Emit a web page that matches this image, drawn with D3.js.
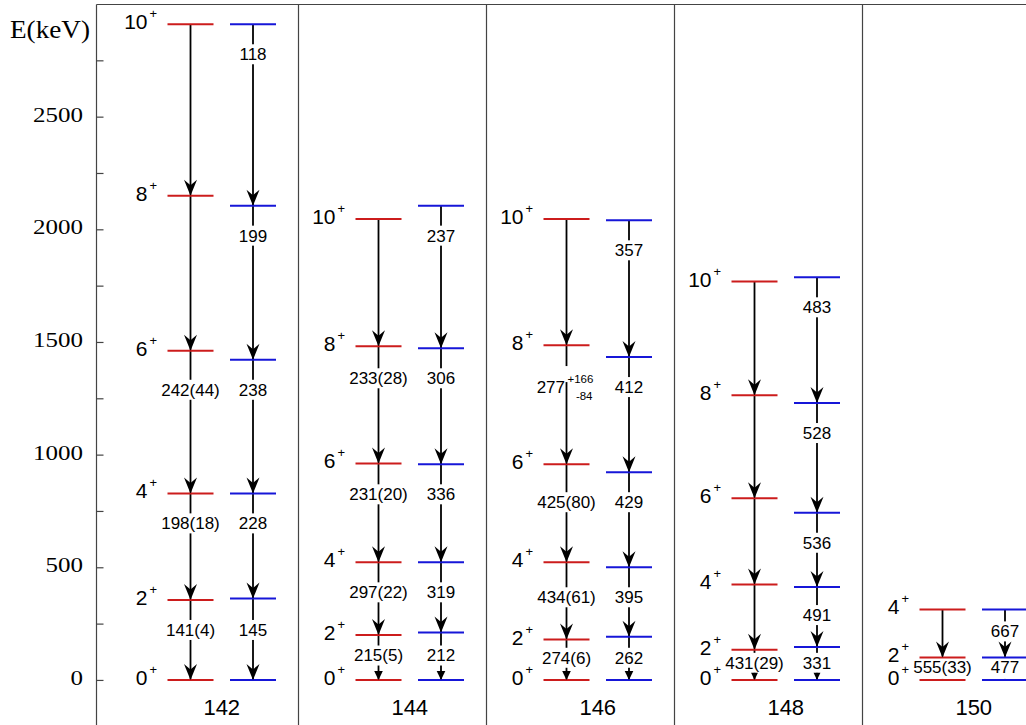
<!DOCTYPE html>
<html>
<head>
<meta charset="utf-8">
<script src="https://cdn.jsdelivr.net/npm/d3@7"></script>
<style>
  body { margin: 0; background: #fff; }
  svg { display: block; }
</style>
</head>
<body>
<svg id="chart" width="1026" height="725"></svg>
<script>
// Ground-state bands of the even Ba isotopes: experiment (red) vs. calculation (blue)
const nuclei = ["142", "144", "146", "148", "150"];
const spins = [
  [0, 2, 4, 6, 8, 10],
  [0, 2, 4, 6, 8, 10],
  [0, 2, 4, 6, 8, 10],
  [0, 2, 4, 6, 8, 10],
  [0, 2, 4]
];
// level energies in keV
const expEnergies = [
  [0, 355, 828, 1461, 2149, 2910],
  [0, 199, 522, 961, 1481, 2046],
  [0, 179, 522, 957, 1485, 2046],
  [0, 134, 424, 806, 1263, 1768],
  [0, 100, 313]
];
const thEnergies = [
  [0, 361, 828, 1421, 2105, 2910],
  [0, 210, 522, 957, 1472, 2105],
  [0, 192, 500, 922, 1433, 2040],
  [0, 146, 412, 742, 1229, 1787],
  [0, 100, 313]
];
// B(E2) values of each transition J -> J-2, indexed by the lower level
const expBE2 = [
  [141, 198, 242, null, null],
  [215, 297, 231, 233, null],
  [274, 434, 425, 277, null],
  [431, null, null, null, null],
  [555, null]
];
const expErr = [
  [4, 18, 44, null, null],
  [5, 22, 20, 28, null],
  [6, 61, 80, [166, 84], null],
  [29, null, null, null, null],
  [33, null]
];
const thBE2 = [
  [145, 228, 238, 199, 118],
  [212, 319, 336, 306, 237],
  [262, 395, 429, 412, 357],
  [331, 491, 536, 528, 483],
  [477, 667]
];
const energyTicks = d3.range(0, 3000, 250);

const W = 1026, H = 725;
const axisX = 96.5, topY = 4.5;
const RED = "#cc1c1c", BLUE = "#1616d8";
const SANS = "'Liberation Sans', Arial, Helvetica, sans-serif";
const SERIF = "'Liberation Serif', 'Times New Roman', serif";

const svg = d3.select("#chart");

const y = d3.scaleLinear().domain([-200, 3000]).range([725, 4]);
const x = d3.scaleBand().domain(nuclei).range([110, 110 + 188 * nuclei.length]);
const halfW = 23;
const colOffset = { exp: 80.5, th: 143 };

// frame
const frame = svg.append("g").attr("stroke", "#444").attr("stroke-width", 1.2);
frame.append("line").attr("x1", axisX).attr("x2", axisX).attr("y1", topY).attr("y2", H);
frame.append("line").attr("x1", axisX).attr("x2", W).attr("y1", topY).attr("y2", topY);
frame.selectAll("line.div").data(nuclei.slice(1)).join("line")
  .attr("class", "div")
  .attr("x1", d => Math.round(x(d)) + 0.5).attr("x2", d => Math.round(x(d)) + 0.5)
  .attr("y1", topY).attr("y2", H);

// energy axis, ticks pointing inward
const axis = svg.append("g")
  .attr("transform", `translate(${axisX},0)`)
  .call(d3.axisLeft(y)
    .tickValues(energyTicks)
    .tickSizeInner(-7)
    .tickSizeOuter(0)
    .tickPadding(13.5)
    .tickFormat(d => d % 500 === 0 ? d : ""));
axis.select(".domain").remove();
axis.selectAll(".tick line").attr("stroke", "#444").attr("stroke-width", 1.2);
axis.selectAll(".tick text")
  .attr("font-family", SERIF).attr("font-size", 20).attr("fill", "#000").attr("dy", "0.225em")
  .filter(function () { return this.textContent.length > 0; })
  .attr("textLength", function () { return this.textContent.length * 12.5; })
  .attr("lengthAdjust", "spacingAndGlyphs");

svg.append("text")
  .attr("x", 90).attr("y", 38).attr("text-anchor", "end")
  .attr("font-family", SERIF).attr("font-size", 25)
  .attr("textLength", 80).attr("lengthAdjust", "spacingAndGlyphs")
  .text("E(keV)");

const gLines = svg.append("g");
const gMask = svg.append("g");
const gLevels = svg.append("g");
const gHeads = svg.append("g");
const gText = svg.append("g");

nuclei.forEach((nuc, p) => {
  const columns = [
    { key: "exp", E: expEnergies[p], color: RED,
      label: i => expBE2[p][i] == null ? null : { v: expBE2[p][i], e: expErr[p][i] } },
    { key: "th", E: thEnergies[p], color: BLUE,
      label: i => thBE2[p][i] == null ? null : { v: thBE2[p][i], e: null } }
  ];
  const nTr = spins[p].length - 1;

  // shared label height for each row of transitions
  const rowY = d3.range(nTr).map(i => {
    const cands = columns.filter(c => c.label(i)).map(c => {
      const yu = y(c.E[i + 1]), yl = y(c.E[i]);
      return Math.min(yu + 30, (yu + yl) / 2 - 2);
    });
    return cands.length ? d3.max(cands) : null;
  });

  columns.forEach(c => {
    const cx = x(nuc) + colOffset[c.key];

    for (let i = 0; i < nTr; i++) {
      const yu = y(c.E[i + 1]), yl = y(c.E[i]);
      const lab = c.label(i);
      const asym = lab && Array.isArray(lab.e);

      gLines.append("line")
        .attr("x1", cx).attr("x2", cx).attr("y1", yu).attr("y2", yl)
        .attr("stroke", "#000").attr("stroke-width", 1.8);

      let segTop = yu;
      if (lab) {
        const ly = rowY[i];
        if (asym) {
          gMask.append("rect").attr("x", cx - 6).attr("width", 12)
            .attr("y", ly - 21).attr("height", 16).attr("fill", "#fff");
          segTop = ly + 10;
          const t = gText.append("g").attr("font-family", SANS).attr("fill", "#000");
          t.append("text").attr("x", cx - 1.5).attr("y", ly).attr("dy", "0.35em")
            .attr("text-anchor", "end").attr("font-size", 17).text(lab.v);
          t.append("text").attr("x", cx + 1).attr("y", ly - 8).attr("dy", "0.35em")
            .attr("font-size", 11.5).text("+" + lab.e[0]);
          t.append("text").attr("x", cx + 26).attr("y", ly + 8.5).attr("dy", "0.35em")
            .attr("text-anchor", "end").attr("font-size", 11.5).text("-" + lab.e[1]);
        } else {
          segTop = ly + 10;
          // with no room left below the label, the line is hidden down to the level
          const bottom = (yl - segTop < 4) ? yl - 1 : ly + 10;
          gMask.append("rect").attr("x", cx - 6).attr("width", 12)
            .attr("y", ly - 10).attr("height", bottom - (ly - 10)).attr("fill", "#fff");
          gText.append("text")
            .attr("x", cx).attr("y", ly).attr("dy", "0.35em")
            .attr("text-anchor", "middle")
            .attr("font-family", SANS).attr("font-size", 17)
            .text(lab.e == null ? lab.v : `${lab.v}(${lab.e})`);
        }
      }

      // arrowhead at the lower level
      const seg = yl - segTop;
      if (seg >= 15) {
        gHeads.append("path")
          .attr("transform", `translate(${cx},${yl})`)
          .attr("d", "M0,0 L-6.5,-16 L0,-10.5 L6.5,-16 Z")
          .attr("fill", "#000");
      } else if (seg >= 4) {
        const h = Math.min(9, seg), w = h * 0.48;
        gHeads.append("path")
          .attr("transform", `translate(${cx},${yl})`)
          .attr("d", `M0,0 L${-w},${-h} L${w},${-h} Z`)
          .attr("fill", "#000");
      }
    }

    // levels
    gLevels.selectAll(null).data(c.E).join("line")
      .attr("x1", cx - halfW).attr("x2", cx + halfW)
      .attr("y1", d => y(d)).attr("y2", d => y(d))
      .attr("stroke", c.color).attr("stroke-width", 2);
  });

  // spin-parity labels left of the experimental levels
  const xs = x(nuc) + colOffset.exp - halfW;
  spins[p].forEach((J, i) => {
    const yy = y(expEnergies[p][i]) + 5;
    gText.append("text").attr("x", xs - 20).attr("y", yy)
      .attr("text-anchor", "end").attr("font-family", SANS).attr("font-size", 21)
      .text(J);
    gText.append("text").attr("x", xs - 18).attr("y", yy - 11)
      .attr("font-family", SANS).attr("font-size", 13)
      .text("+");
  });

  // nucleus mass number
  gText.append("text")
    .attr("x", x(nuc) + (colOffset.exp + colOffset.th) / 2).attr("y", 715)
    .attr("text-anchor", "middle").attr("font-family", SANS).attr("font-size", 22)
    .text(nuc);
});
</script>
</body>
</html>
